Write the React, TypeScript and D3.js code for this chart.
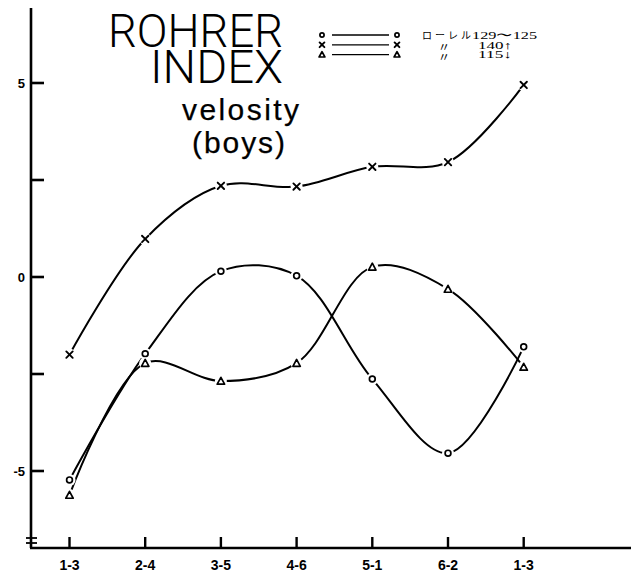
import React from "react";
import * as d3 from "d3";

const categories = ["1-3", "2-4", "3-5", "4-6", "5-1", "6-2", "1-3"];
const seriesCircle = [-5.23, -1.98, 0.15, 0.03, -2.63, -4.54, -1.8];
const seriesCross = [-2.0, 0.98, 2.35, 2.33, 2.84, 2.96, 4.95];
const seriesTriangle = [-5.62, -2.22, -2.68, -2.22, 0.26, -0.31, -2.32];
const yTicks = [-5, -2.5, 0, 2.5, 5];
const yTickLabels = ["-5", "", "0", "", "5"];
const titleLines = ["ROHRER", "INDEX"];
const subtitleLines = ["velosity", "(boys)"];
const legendMarkers = ["circle", "cross", "triangle"];
const legendPrefix = ["ローレル", "〃", "〃"];
const legendValues = ["129〜125", "140↑", "115↓"];

const W = 631;
const H = 575;

function Marker({ kind, x, y, halo = true, s = 3.2 }: { kind: string; x: number; y: number; halo?: boolean; s?: number }) {
  return (
    <g transform={`translate(${x},${y})`}>
      {halo && <circle r={6} fill="#fff" />}
      {kind === "circle" && <circle r={s - 0.3} fill="none" stroke="#000" strokeWidth={1.7} />}
      {kind === "cross" && (
        <g stroke="#000" strokeWidth={1.9} strokeLinecap="round">
          <line x1={-s} y1={-s} x2={s} y2={s} />
          <line x1={-s} y1={s} x2={s} y2={-s} />
        </g>
      )}
      {kind === "triangle" && (
        <path d={`M0,${-s - 0.5}L${s + 0.5},${s}L${-s - 0.5},${s}Z`} fill="none" stroke="#000" strokeWidth={1.7} strokeLinejoin="round" />
      )}
    </g>
  );
}

export default function App() {
  const x = d3.scalePoint<number>().domain(d3.range(categories.length)).range([69.5, 523.7]);
  const y = d3.scaleLinear().domain([-5, 5]).range([471, 83]);
  const line = d3
    .line<number>()
    .x((_, i) => x(i) as number)
    .y((d) => y(d))
    .curve(d3.curveCatmullRom.alpha(0.5));

  const series = [
    { kind: "circle", values: seriesCircle },
    { kind: "cross", values: seriesCross },
    { kind: "triangle", values: seriesTriangle },
  ];

  const axisX = 31;
  const axisY = 548;

  return (
    <svg width={W} height={H} style={{ position: "absolute", left: 0, top: 0, background: "#fff" }}>
      <rect width={W} height={H} fill="#fff" />
      {/* axes */}
      <line x1={axisX} y1={8} x2={axisX} y2={axisY} stroke="#000" strokeWidth={2.6} />
      <line x1={axisX - 1} y1={axisY} x2={W} y2={axisY} stroke="#000" strokeWidth={2.6} />
      <line x1={26} y1={538} x2={37} y2={538} stroke="#000" strokeWidth={1.8} />
      <line x1={26} y1={543} x2={37} y2={543} stroke="#000" strokeWidth={1.8} />
      {yTicks.map((t, i) => (
        <g key={i}>
          <line x1={axisX} x2={axisX + 13} y1={y(t)} y2={y(t)} stroke="#000" strokeWidth={2.6} />
          {yTickLabels[i] && (
            <text x={25} y={y(t)} dy="0.35em" textAnchor="end" fontFamily="Liberation Sans, Arial, sans-serif" fontWeight="bold" fontSize={13}>
              {yTickLabels[i]}
            </text>
          )}
        </g>
      ))}
      {categories.map((c, i) => (
        <g key={i}>
          <line x1={x(i)} x2={x(i)} y1={537} y2={axisY} stroke="#000" strokeWidth={2.4} />
          <text x={x(i)} y={565} dy="0.35em" textAnchor="middle" fontFamily="Liberation Sans, Arial, sans-serif" fontWeight="bold" fontSize={14}>
            {c}
          </text>
        </g>
      ))}
      {/* series lines */}
      {series.map((s) => (
        <path key={s.kind} d={line(s.values) || ""} fill="none" stroke="#000" strokeWidth={2} />
      ))}
      {series.map((s) =>
        s.values.map((v, i) => <Marker key={s.kind + i} kind={s.kind} x={x(i) as number} y={y(v)} />)
      )}
      {/* title */}
      <text x={283} y={47} textAnchor="end" fontFamily="Roboto, sans-serif" fontWeight={300} fontSize={47} textLength={175} lengthAdjust="spacingAndGlyphs">
        {titleLines[0]}
      </text>
      <text x={283} y={83} textAnchor="end" fontFamily="Roboto, sans-serif" fontWeight={300} fontSize={46} textLength={133} lengthAdjust="spacingAndGlyphs">
        {titleLines[1]}
      </text>
      <text x={182} y={120} fontFamily="Liberation Sans, Arial, sans-serif" fontSize={30} textLength={117} lengthAdjust="spacing" stroke="#000" strokeWidth={0.25}>
        {subtitleLines[0]}
      </text>
      <text x={192} y={153} fontFamily="Liberation Sans, Arial, sans-serif" fontSize={30} textLength={93} lengthAdjust="spacing" stroke="#000" strokeWidth={0.25}>
        {subtitleLines[1]}
      </text>
      {/* legend */}
      {legendMarkers.map((m, i) => {
        const ly = 35 + i * 9.8;
        return (
          <g key={m}>
            <line x1={332} x2={389} y1={ly} y2={ly} stroke="#000" strokeWidth={1.3} />
            <Marker kind={m} x={322} y={ly} halo={false} s={2.4} />
            <Marker kind={m} x={397} y={ly} halo={false} s={2.4} />
            {i === 0 ? (
              <g>
                <text x={422} y={ly} dy="0.35em" fontSize={10} fontFamily="Noto Sans CJK JP, sans-serif" textLength={49} lengthAdjust="spacing">
                  {legendPrefix[i]}
                </text>
                <text x={472} y={ly} dy="0.35em" fontSize={11} fontFamily="Liberation Serif, DejaVu Serif, serif" textLength={65} lengthAdjust="spacingAndGlyphs">
                  {legendValues[i]}
                </text>
              </g>
            ) : (
              <g>
                <text x={444} y={ly + 7.5} textAnchor="middle" fontSize={12} fontFamily="Noto Sans CJK JP, sans-serif">
                  {legendPrefix[i]}
                </text>
                <text x={478} y={ly} dy="0.35em" fontSize={11} fontFamily="Liberation Serif, DejaVu Serif, serif" textLength={34} lengthAdjust="spacingAndGlyphs">
                  {legendValues[i]}
                </text>
              </g>
            )}
          </g>
        );
      })}
    </svg>
  );
}
